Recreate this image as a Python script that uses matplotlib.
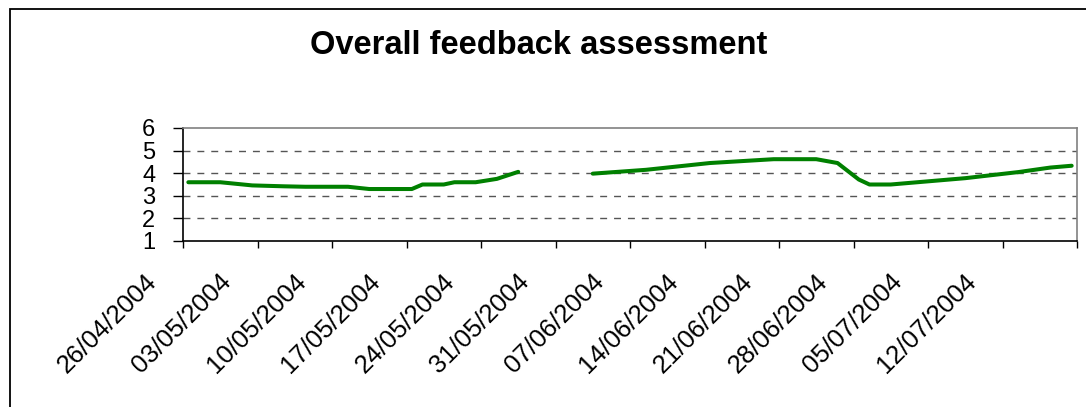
import numpy as np
import pandas as pd
import matplotlib

from matplotlib import pyplot as plt
from matplotlib.transforms import ScaledTranslation
from matplotlib.patches import Rectangle

matplotlib.use("Agg")

# data (nan = no answer that week)
dates = ["2004-04-26", "2004-04-29", "2004-05-02", "2004-05-05", "2004-05-07",
         "2004-05-11", "2004-05-13", "2004-05-17", "2004-05-18", "2004-05-20",
         "2004-05-21", "2004-05-23", "2004-05-25", "2004-05-27", "2004-05-30",
         "2004-06-03", "2004-06-08", "2004-06-14", "2004-06-20", "2004-06-24",
         "2004-06-26", "2004-06-28", "2004-06-29", "2004-07-01", "2004-07-08",
         "2004-07-13", "2004-07-16", "2004-07-18"]
scores = [3.6, 3.6, 3.46, 3.42, 3.4,
          3.4, 3.3, 3.3, 3.5, 3.5,
          3.6, 3.6, 3.75, 4.06, np.nan,
          3.98, 4.15, 4.45, 4.62, 4.62,
          4.45, 3.72, 3.5, 3.5, 3.78,
          4.05, 4.25, 4.33]
tick_dates = ["2004-04-26", "2004-05-03", "2004-05-10", "2004-05-17", "2004-05-24",
              "2004-05-31", "2004-06-07", "2004-06-14", "2004-06-21", "2004-06-28",
              "2004-07-05", "2004-07-12", "2004-07-19"]
tick_labels = ["26/04/2004", "03/05/2004", "10/05/2004", "17/05/2004", "24/05/2004",
               "31/05/2004", "07/06/2004", "14/06/2004", "21/06/2004", "28/06/2004",
               "05/07/2004", "12/07/2004", ""]
y_ticks = [1, 2, 3, 4, 5, 6]
title = "Overall feedback assessment"

plt.rcParams['font.family'] = ['Liberation Sans', 'DejaVu Sans']

fig = plt.figure(figsize=(10.86, 4.07), dpi=100)
ax = fig.add_axes([183 / 1086, 1 - 241 / 407, (1077 - 183) / 1086, (241 - 128) / 407])

x = pd.to_datetime(dates) + pd.Timedelta(hours=12)
ax.plot(x, scores, color='#008000', linewidth=2.9, solid_capstyle='round')

ax.set_xlim(pd.Timestamp(tick_dates[0]), pd.Timestamp(tick_dates[-1]))
ax.set_ylim(1, 6)
ax.set_yticks(y_ticks)
ax.set_xticks(pd.to_datetime(tick_dates))
ax.set_xticklabels(tick_labels, rotation=45, ha='right', va='center',
                   rotation_mode='anchor', fontsize=18.5)
ax.tick_params(axis='y', labelsize=17, length=7, width=1, pad=13, color='black')
ax.tick_params(axis='x', length=5, width=1, pad=0, color='black')

# move the slanted date labels to where the original has them
off = ScaledTranslation(-0.3, -0.3, fig.dpi_scale_trans)
for lab in ax.get_xticklabels():
    lab.set_transform(lab.get_transform() + off)

for v in y_ticks[1:-1]:
    ax.axhline(v, color='#555555', linewidth=1, dashes=(5, 5), zorder=0)

ax.spines['left'].set_color('black')
ax.spines['bottom'].set_color('black')
ax.spines['top'].set_color('#808080')
ax.spines['right'].set_color('#808080')
for s in ax.spines.values():
    s.set_linewidth(1.2)

fig.text(0.496, 1 - 46 / 407, title, ha='center', va='center',
         fontsize=23.5, fontweight='bold')

# outer chart frame, cut off at right and bottom like the original
fig.patches.append(Rectangle((10 / 1086, -0.1), 1.2, 1.1 - 9 / 407,
                             transform=fig.transFigure, fill=False,
                             edgecolor='black', linewidth=1.3))

fig.savefig("out.png", dpi=100)
